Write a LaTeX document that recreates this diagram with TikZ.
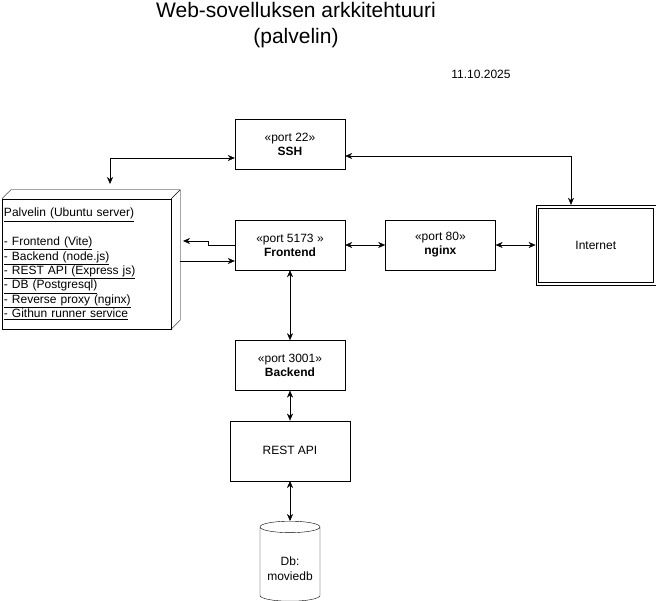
\documentclass[tikz,border=0pt]{standalone}
\usepackage{fontspec}
\setmainfont{Liberation Sans}
\usetikzlibrary{arrows.meta,
positioning,
shapes.geometric,
calc}

\begin{document}
\begin{tikzpicture}[
		x=1pt, y=-1pt,
		node distance=40pt,
		>={Stealth[length=7pt,width=6pt]},
		port/.style={
			draw,
			align=center,
			minimum width=110pt,
			minimum height=50pt,
			inner sep=2pt,
			font=\fontsize{12}{14}\selectfont
		},
		plain/.style={
			draw,
			align=center,
			minimum width=120pt,
			minimum height=60pt,
			font=\fontsize{12}{14}\selectfont
		},
		netbox/.style={
			draw,
			align=center,
			minimum width=120pt,
			minimum height=80pt,
			font=\fontsize{12}{14}\selectfont
		},
		server/.style={
			draw,
			align=left,
			text width=165pt,
			minimum height=130pt,
			inner sep=2pt,
			font=\fontsize{12}{14.4}\selectfont
		},
		db/.style={
			draw,
			cylinder,
			shape border rotate=90,
			aspect=0.22,
			minimum width=60pt,
			minimum height=80pt,
			align=center,
			font=\fontsize{12}{15}\selectfont
		},
		link/.style={<->}
		]
		\useasboundingbox (0,0) rectangle (656,601);
		
		% Title
		\node[font=\fontsize{21}{26}\selectfont, align=center] (title) at (296,25)
		{Web-sovelluksen arkkitehtuuri\\(palvelin)};
		\node[font=\fontsize{12}{14}\selectfont] (date) at (481,74) {11.10.2025};
		
		% Services
		\node[port] (frontend) at (290,245) {«port 5173 »\\\textbf{Frontend}};
		\node[port, above=50pt of frontend] (ssh) {«port 22»\\\textbf{SSH}};
		\node[port, right=of frontend] (nginx) {«port 80»\\\textbf{nginx}};
		\node[netbox, right=of nginx] (internet) {Internet};
		\draw ([shift={(3pt,3pt)}]internet.south west) rectangle ([shift={(-3pt,-3pt)}]internet.north east);
		\node[port, below=70pt of frontend] (backend) {«port 3001»\\\textbf{Backend}};
		\node[plain, below=30pt of backend] (restapi) {REST API};
		\node[db, below=of restapi] (moviedb) {\\Db:\\moviedb};
		
		% Server
		\node[server] (palvelin) at (86.5,264)
		{\underline{Palvelin (Ubuntu server)}\\[14.4pt]
			\underline{- Frontend (Vite)}\\
			\underline{- Backend (node.js)}\\
			\underline{- REST API (Express js)}\\
			\underline{- DB (Postgresql)}\\
			\underline{- Reverse proxy (nginx)}\\
			\underline{- Githun runner service}};
		\draw (palvelin.north west) -- ++(9pt,9pt) -| ($(palvelin.south east)+(9pt,9pt)$)
		-- (palvelin.south east);
		\draw (palvelin.north east) -- ++(9pt,9pt);
		
		% Connections
		\draw[link] (110,184) |- (ssh.west |- 0,158);
		\draw[link] (ssh.east |- 0,156) -| (internet.north -| 571,0);
		\draw[->] (frontend.west) -- ++(-27,0) |- (183,241);
		\draw[->] (180,261) -- (frontend.west |- 0,261);
		\draw[link] (frontend) -- (nginx);
		\draw[link] (nginx) -- (internet);
		\draw[link] (frontend) -- (backend);
		\draw[link] (backend) -- (restapi);
		\draw[link] (restapi) -- (moviedb);
		
	\end{tikzpicture}
\end{document}
